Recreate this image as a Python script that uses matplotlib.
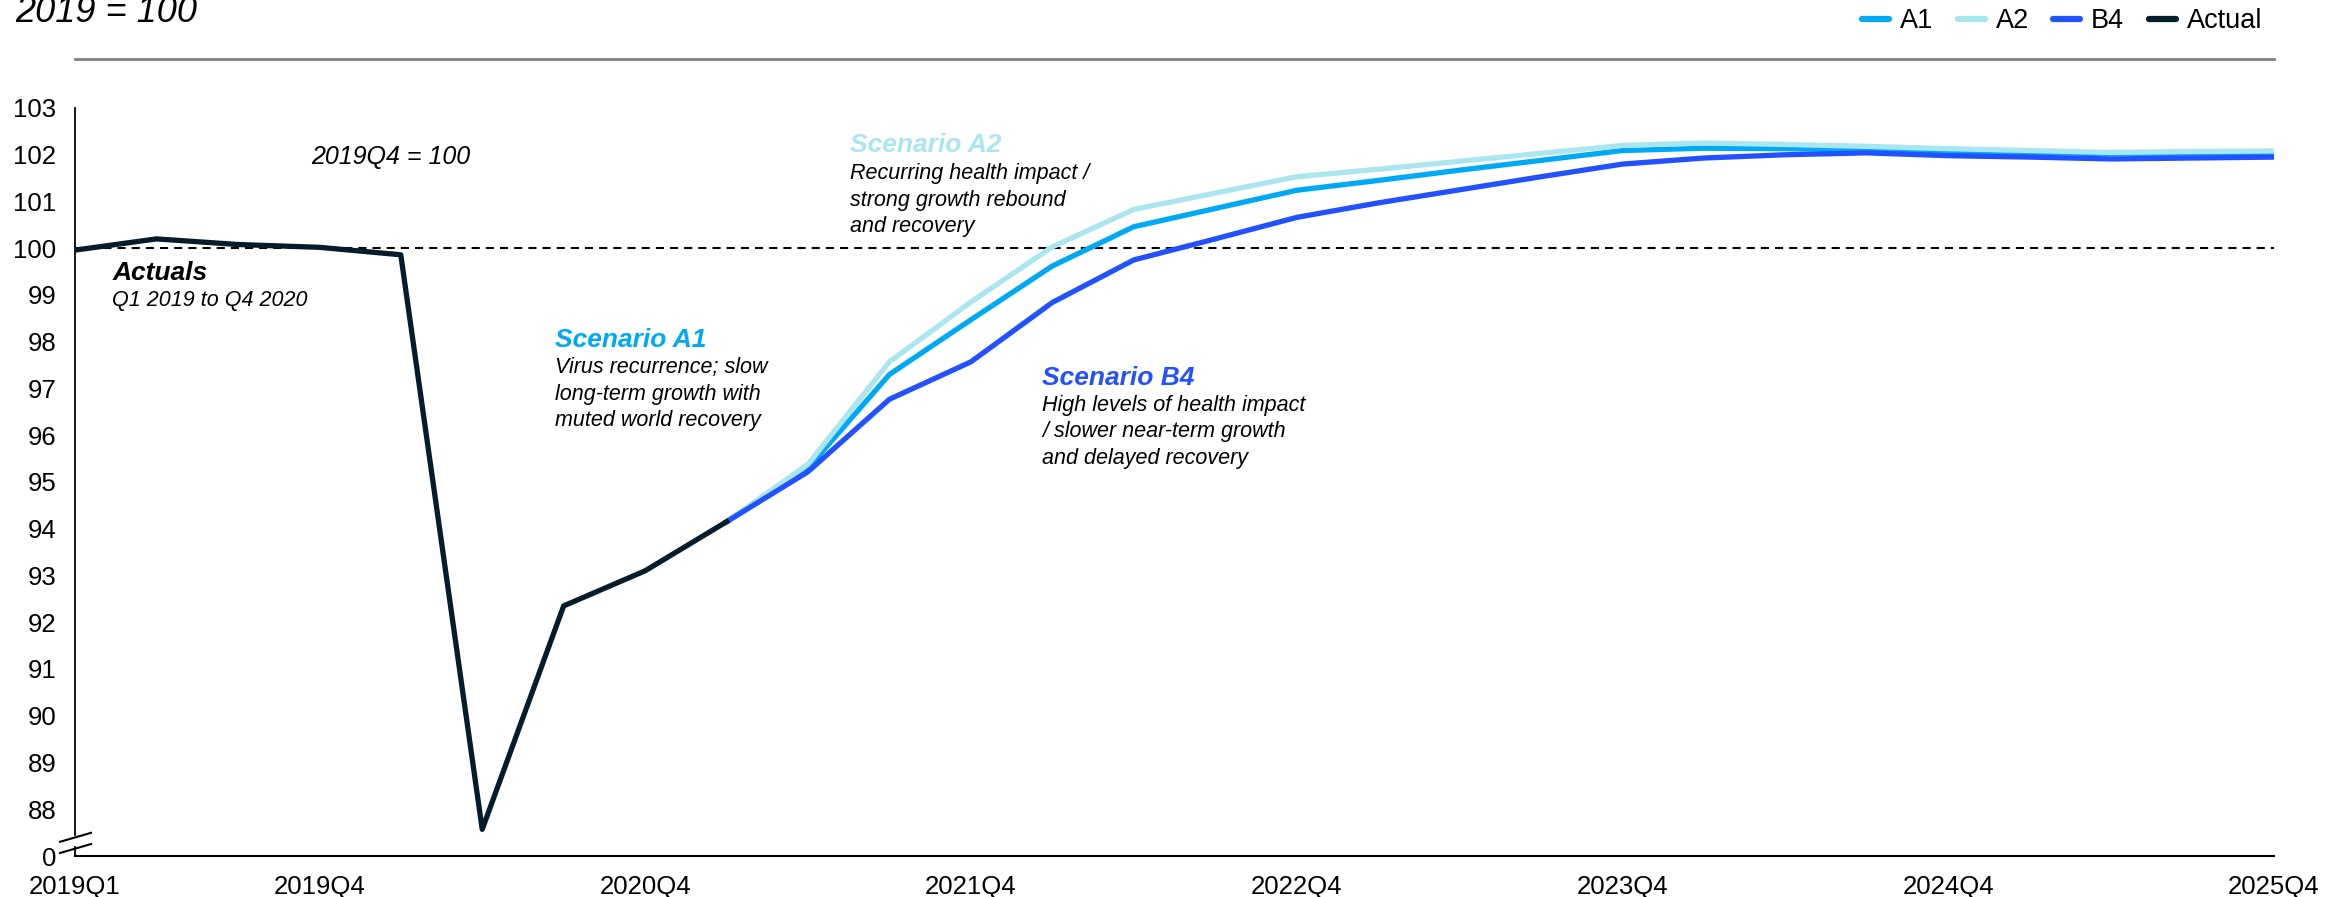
import matplotlib
matplotlib.use('Agg')
import matplotlib.pyplot as plt
from matplotlib.lines import Line2D

plt.rcParams['font.family'] = ['Liberation Sans', 'DejaVu Sans']

# quarters 2019Q1 .. 2025Q4 -> index 0..27
quarters = [f'{y}Q{q}' for y in range(2019, 2026) for q in range(1, 5)]
tick_idx = [0, 3, 7, 11, 15, 19, 23, 27]

# actuals 2019Q1 .. 2021Q1
actual = [99.96, 100.2, 100.08, 100.02, 99.86, 87.57, 92.35, 93.1, 94.15]

# scenarios 2021Q1 .. 2025Q4
a1 = [94.15, 95.3, 97.3, 98.47, 99.62, 100.46, 100.85, 101.24, 101.45, 101.67,
      101.88, 102.09, 102.14, 102.13, 102.1, 102.07, 102.05, 102.02, 102.03, 102.04]
a2 = [94.15, 95.38, 97.57, 98.85, 100.03, 100.83, 101.18, 101.53, 101.69, 101.86,
      102.03, 102.2, 102.25, 102.22, 102.18, 102.13, 102.09, 102.05, 102.07, 102.08]
b4 = [94.15, 95.22, 96.77, 97.57, 98.84, 99.75, 100.2, 100.66, 100.97, 101.25,
      101.53, 101.8, 101.93, 102.0, 102.04, 101.98, 101.95, 101.91, 101.93, 101.95]

y_ticks = list(range(88, 104))

c_a1 = '#00A9F4'
c_a2 = '#AAE6F0'
c_b4 = '#2251FF'
c_act = '#051C2C'

fig = plt.figure(figsize=(23.51, 8.97), dpi=100)
ax = fig.add_axes([75 / 2351, 41 / 897, 2199 / 2351, 748 / 897])

x_act = list(range(len(actual)))
x_sc = list(range(8, 8 + len(a1)))
lw = 3.8
ax.plot(x_sc, a1, color=c_a1, lw=lw, zorder=2)
ax.plot(x_sc, a2, color=c_a2, lw=lw, zorder=3)
ax.plot(x_sc, b4, color=c_b4, lw=lw, zorder=4)
ax.plot(x_act, actual, color=c_act, lw=lw, zorder=5)

ax.axhline(100, color='black', lw=1.5, dashes=(3.9, 2.9), zorder=1)

ax.set_xlim(0, 27)
ax.set_ylim(87, 103)
ax.set_xticks(tick_idx)
ax.set_xticklabels([quarters[i] for i in tick_idx])
ax.set_yticks([87] + y_ticks)
ax.set_yticklabels(['0'] + [str(v) for v in y_ticks])
ax.tick_params(axis='both', length=0, labelsize=18.5, pad=13.5)

for s in ['top', 'right']:
    ax.spines[s].set_visible(False)
ax.spines['bottom'].set_linewidth(1.5)
ax.spines['left'].set_linewidth(1.3)
ax.spines['left'].set_bounds(87.45, 103)
# short piece of the axis below the break
ax.plot([0, 0], [87.0, 87.19], color='black', lw=1.3, clip_on=False, zorder=6)
# break marks
for y0, y1 in [(0.019, 0.031), (0.004, 0.016)]:
    ax.plot([-0.0068, 0.0073], [y0, y1], transform=ax.transAxes, color='black',
            lw=1.5, clip_on=False, zorder=6)

# annotations
ax.text(2.90, 101.95, '2019Q4 = 100', fontsize=18, style='italic', va='center')

ax.text(0.46, 99.47, 'Actuals', fontsize=19, style='italic', weight='bold',
        color='black', va='center')
ax.text(0.46, 98.89, 'Q1 2019 to Q4 2020', fontsize=15.5, style='italic', va='center')

body_kw = dict(fontsize=15.5, style='italic', va='center', linespacing=1.32)
head_kw = dict(fontsize=19, style='italic', weight='bold', va='center')

ax.text(5.89, 98.04, 'Scenario A1', color=c_a1, **head_kw)
ax.text(5.89, 96.88, 'Virus recurrence; slow\nlong-term growth with\nmuted world recovery',
        **body_kw)

ax.text(9.52, 102.21, 'Scenario A2', color=c_a2, **head_kw)
ax.text(9.52, 101.03, 'Recurring health impact /\nstrong growth rebound\nand recovery',
        **body_kw)

ax.text(11.87, 97.22, 'Scenario B4', color=c_b4, **head_kw)
ax.text(11.87, 96.07, 'High levels of health impact\n/ slower near-term growth\nand delayed recovery',
        **body_kw)

# title and top rule
fig.text(15 / 2351, 1 - 22.5 / 897, '2019 = 100', fontsize=26, style='italic', va='baseline')
fig.add_artist(Line2D([75 / 2351, 2274 / 2351], [1 - 59 / 897, 1 - 59 / 897],
                      color='#808080', lw=2))

handles = [Line2D([], [], color=c, lw=4.5, solid_capstyle='round')
           for c in [c_a1, c_a2, c_b4, c_act]]
fig.legend(handles, ['A1', 'A2', 'B4', 'Actual'], loc='center right',
           bbox_to_anchor=(2262 / 2351, 1 - 21 / 897), ncol=4, frameon=False,
           fontsize=19.5, handlelength=1.0, handletextpad=0.4, columnspacing=0.9,
           borderaxespad=0, borderpad=0)

fig.savefig('out.png', dpi=100)
